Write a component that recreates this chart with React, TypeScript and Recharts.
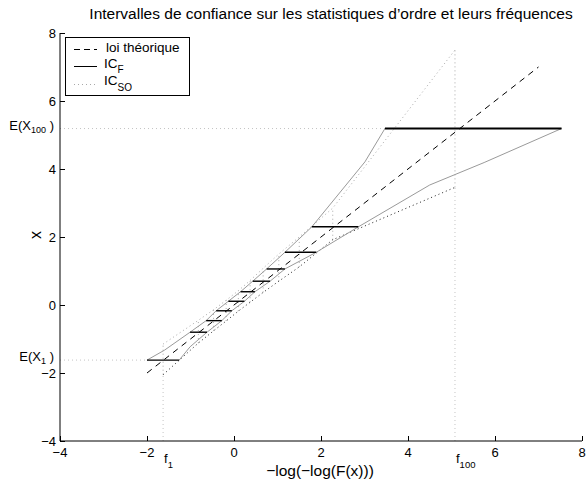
import React from "react";
import { ComposedChart, Line, XAxis, YAxis, Legend } from "recharts";

const FONT = "'Liberation Sans', Arial, Helvetica, sans-serif";
const BLACK = "#000000";
const GREY_ENV = "#9a9a9a";
const GREY_DOT = "#a8a8a8";
const REF_DOT = "#c4c4c4";

// axes
const xTicks = [-4, -2, 0, 2, 4, 6, 8];
const yTicks = [-4, -2, 0, 2, 4, 6, 8];

// order statistics drawn (rank i out of n = 100)
const ranks = [1, 10, 20, 30, 40, 50, 60, 70, 80, 90, 100];
const expectedOrder = [-1.62, -0.8, -0.46, -0.17, 0.11, 0.39, 0.7, 1.06, 1.55, 2.3, 5.19];
// IC_F : frequency interval at each level E(X_i)
const freqLow = [-2.0, -1.01, -0.64, -0.41, -0.13, 0.15, 0.43, 0.75, 1.17, 1.79, 3.47];
const freqHigh = [-1.26, -0.62, -0.28, -0.05, 0.24, 0.48, 0.83, 1.17, 1.89, 2.86, 7.53];
// IC_SO : order statistic interval at each frequency f_i
const freqAt = [-1.63, -0.82, -0.47, -0.18, 0.1, 0.37, 0.67, 1.03, 1.5, 2.27, 5.08];
const orderLow = [-2.05, -1.12, -0.76, -0.47, -0.18, 0.08, 0.37, 0.7, 1.12, 1.92, 3.46];
const orderHigh = [-1.15, -0.45, -0.14, 0.14, 0.42, 0.72, 1.08, 1.5, 2.0, 2.85, 7.5];

// grey envelopes of IC_F (all ranks, so a few extra knots)
const envLowX = [-2.0, -1.6, -1.01, -0.64, -0.41, -0.13, 0.15, 0.43, 0.75, 1.17, 1.79, 3.01, 3.47];
const envLowY = [-1.62, -1.33, -0.8, -0.46, -0.17, 0.11, 0.39, 0.7, 1.06, 1.55, 2.3, 4.21, 5.19];
const envHighX = [-1.26, -1.01, -0.62, -0.28, -0.05, 0.24, 0.48, 0.83, 1.17, 1.89, 2.86, 4.5, 5.75, 7.53];
const envHighY = [-1.62, -1.23, -0.8, -0.46, -0.17, 0.11, 0.39, 0.7, 1.06, 1.55, 2.3, 3.53, 4.19, 5.19];

// theoretical law
const lawX = [-2, 7];
const lawY = [-2, 7];

const pts = (xs: number[], ys: number[]) => xs.map((x, i) => ({ x, y: ys[i] }));

const last = ranks.length - 1;
const minus = (v: number) => (v < 0 ? `\u2212${Math.abs(v)}` : `${v}`);

function YTick(props: any) {
  const { x, y, payload } = props;
  const v = payload.value;
  if (v === expectedOrder[0] || v === expectedOrder[last]) {
    const sub = v === expectedOrder[0] ? ranks[0] : ranks[last];
    return (
      <text x={x - 6} y={y + 1} textAnchor="end" fontSize={13} fontFamily={FONT} fill={BLACK}>
        E(X
        <tspan dy={3} fontSize={9}>
          {sub}
        </tspan>
        <tspan dy={-3}> )</tspan>
      </text>
    );
  }
  return (
    <g>
      <line x1={x} x2={x + 5} y1={y + 0.5} y2={y + 0.5} stroke={BLACK} />
      <text x={x - 4} y={y + 5} textAnchor="end" fontSize={13} fontFamily={FONT} fill={BLACK}>
        {minus(v)}
      </text>
    </g>
  );
}

function XTick(props: any) {
  const { x, y, payload } = props;
  const v = payload.value;
  if (v === freqAt[0] || v === freqAt[last]) {
    const sub = v === freqAt[0] ? ranks[0] : ranks[last];
    return (
      <text x={x + 1} y={y + 22} textAnchor="start" fontSize={13} fontFamily={FONT} fill={BLACK}>
        f
        <tspan dy={5} fontSize={9.5}>
          {sub}
        </tspan>
      </text>
    );
  }
  return (
    <g>
      <line x1={x + 0.5} x2={x + 0.5} y1={y} y2={y - 5} stroke={BLACK} />
      <text x={x} y={y + 16} textAnchor="middle" fontSize={13} fontFamily={FONT} fill={BLACK}>
        {minus(v)}
      </text>
    </g>
  );
}

function LegendBox() {
  const txt = { fontSize: 13.5, fontFamily: FONT, fill: BLACK };
  return (
    <svg width={125} height={59} style={{ display: "block" }}>
      <rect x={0.5} y={0.5} width={124} height={58} fill="#fff" stroke={BLACK} />
      <line x1={9} x2={32} y1={12.5} y2={12.5} stroke={BLACK} strokeDasharray="6 4" />
      <text x={41} y={15} {...txt}>loi théorique</text>
      <line x1={9} x2={32} y1={29.5} y2={29.5} stroke={BLACK} />
      <text x={39} y={31} {...txt}>
        IC<tspan dy={5} fontSize={10}>F</tspan>
      </text>
      <line x1={9} x2={32} y1={47.5} y2={47.5} stroke={GREY_DOT} strokeDasharray="1 3" />
      <text x={39} y={48} {...txt}>
        IC<tspan dy={6} fontSize={10}>SO</tspan>
      </text>
    </svg>
  );
}

export default function App() {
  const seg = (x1: number, y1: number, x2: number, y2: number) => [
    { x: x1, y: y1 },
    { x: x2, y: y2 },
  ];

  return (
    <div style={{ position: "absolute", left: 0, top: 0, width: 587, height: 479, background: "#fff" }}>
      <div
        style={{
          position: "absolute",
          left: 0,
          width: 662,
          top: 5,
          textAlign: "center",
          fontFamily: FONT,
          fontSize: 15.5,
          whiteSpace: "nowrap",
        }}
      >
        Intervalles de confiance sur les statistiques d’ordre et leurs fréquences
      </div>
      <div
        style={{
          position: "absolute",
          left: 0,
          width: 640,
          top: 462,
          textAlign: "center",
          fontFamily: FONT,
          fontSize: 15.5,
        }}
      >
        −log(−log(F(x)))
      </div>
      <div
        style={{
          position: "absolute",
          left: 32,
          top: 226,
          fontFamily: FONT,
          fontSize: 16,
          transform: "rotate(-90deg)",
        }}
      >
        x
      </div>
      <ComposedChart width={587} height={479} margin={{ top: 33, right: 5, bottom: 37, left: 59 }}>
        <XAxis
          type="number"
          dataKey="x"
          domain={[-4, 8]}
          ticks={[...xTicks, freqAt[0], freqAt[last]]}
          interval={0}
          height={1}
          tickSize={0}
          tickMargin={0}
          tick={<XTick />}
          axisLine={{ stroke: BLACK }}
          allowDataOverflow
        />
        <YAxis
          type="number"
          dataKey="y"
          domain={[-4, 8]}
          ticks={[...yTicks, expectedOrder[0], expectedOrder[last]]}
          interval={0}
          width={1}
          tickSize={0}
          tickMargin={0}
          tick={<YTick />}
          axisLine={{ stroke: BLACK }}
          allowDataOverflow
        />
        <Legend
          layout="vertical"
          align="center"
          verticalAlign="middle"
          wrapperStyle={{ top: 37, left: 65, width: 125, height: 59 }}
          content={() => <LegendBox />}
        />

        {/* light dotted guides to E(X_1), E(X_100), f_1, f_100 */}
        {[0, last].map((k) => (
          <Line
            key={`gh${k}`}
            data={seg(-4, expectedOrder[k], freqLow[k], expectedOrder[k])}
            dataKey="y"
            stroke={REF_DOT}
            strokeDasharray="1 3"
            dot={false}
            activeDot={false}
            isAnimationActive={false}
          />
        ))}
        {[0, last].map((k) => (
          <Line
            key={`gv${k}`}
            data={seg(freqAt[k], -4, freqAt[k], orderLow[k])}
            dataKey="y"
            stroke={REF_DOT}
            strokeDasharray="1 3"
            dot={false}
            activeDot={false}
            isAnimationActive={false}
          />
        ))}

        {/* IC_SO vertical intervals */}
        {ranks.map((r, k) => (
          <Line
            key={`so${r}`}
            data={seg(freqAt[k], orderLow[k], freqAt[k], orderHigh[k])}
            dataKey="y"
            stroke={GREY_DOT}
            strokeDasharray="1 3"
            dot={false}
            activeDot={false}
            isAnimationActive={false}
          />
        ))}
        <Line
          data={pts(freqAt, orderHigh)}
          dataKey="y"
          stroke={GREY_DOT}
          strokeDasharray="1 3"
          dot={false}
          activeDot={false}
          isAnimationActive={false}
        />
        <Line
          data={pts(freqAt, orderLow)}
          dataKey="y"
          stroke="#222"
          strokeDasharray="1 3"
          dot={false}
          activeDot={false}
          isAnimationActive={false}
        />

        {/* IC_F envelopes */}
        <Line
          data={pts(envLowX, envLowY)}
          dataKey="y"
          stroke={GREY_ENV}
          dot={false}
          activeDot={false}
          isAnimationActive={false}
        />
        <Line
          data={pts(envHighX, envHighY)}
          dataKey="y"
          stroke={GREY_ENV}
          dot={false}
          activeDot={false}
          isAnimationActive={false}
        />

        {/* IC_F horizontal intervals */}
        {ranks.map((r, k) => (
          <Line
            key={`f${r}`}
            data={seg(freqLow[k], expectedOrder[k], freqHigh[k], expectedOrder[k])}
            dataKey="y"
            stroke={BLACK}
            strokeWidth={k === last ? 2 : 1.4}
            dot={false}
            activeDot={false}
            isAnimationActive={false}
          />
        ))}

        {/* theoretical law */}
        <Line
          data={pts(lawX, lawY)}
          dataKey="y"
          stroke={BLACK}
          strokeDasharray="6 5"
          dot={false}
          activeDot={false}
          isAnimationActive={false}
        />
      </ComposedChart>
    </div>
  );
}
